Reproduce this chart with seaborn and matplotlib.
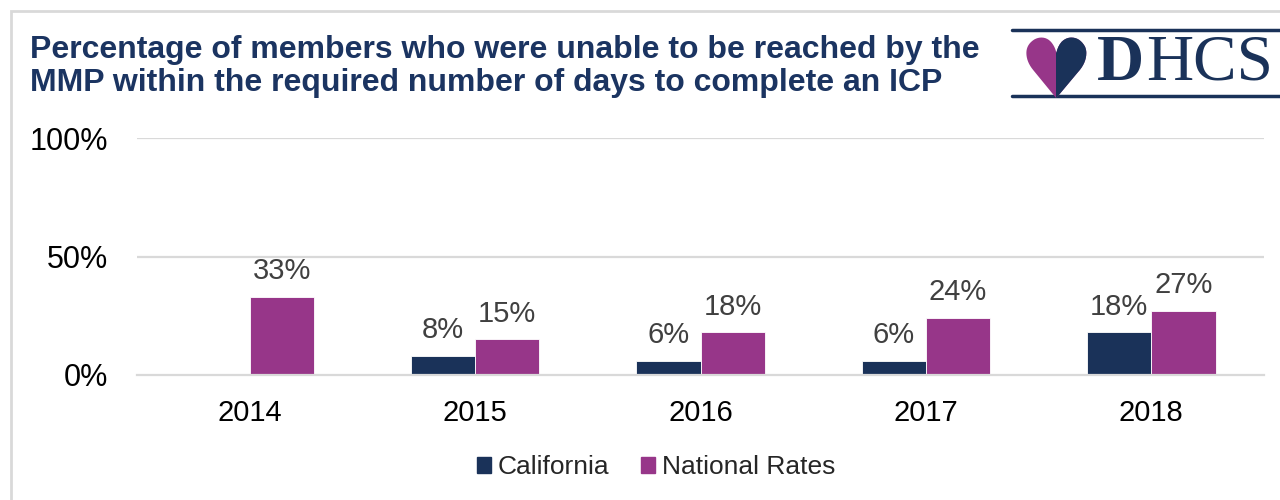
import matplotlib
matplotlib.use("Agg")
import matplotlib.pyplot as plt
import matplotlib.patches as mpatches
from matplotlib.lines import Line2D
from matplotlib.transforms import Bbox
import seaborn as sns
import pandas as pd
import numpy as np

years = ["2014", "2015", "2016", "2017", "2018"]
california = [np.nan, 8, 6, 6, 18]
national = [33, 15, 18, 24, 27]
series_names = ["California", "National Rates"]
y_ticks = [0, 50, 100]
y_tick_labels = ["0%", "50%", "100%"]
title = "Percentage of members who were unable to be reached by the\nMMP within the required number of days to complete an ICP"

navy = "#1A3259"
purple = "#973689"
grid_c = "#D9D9D9"

df = pd.DataFrame({
    "Year": years * 2,
    "Series": [series_names[0]] * len(years) + [series_names[1]] * len(years),
    "Value": california + national,
})

sns.set_theme(style="white")
plt.rcParams["font.family"] = ["Liberation Sans", "DejaVu Sans"]

W, H = 1280, 500
fig = plt.figure(figsize=(12.8, 5.0), dpi=100)
ax = fig.add_axes([137 / W, 1 - 375 / H, (1264 - 137) / W, (375 - 138) / H])

sns.barplot(data=df, x="Year", y="Value", hue="Series", order=years,
            hue_order=series_names, palette=[navy, purple], width=0.57,
            ax=ax, legend=False, saturation=1, edgecolor="white", linewidth=0.6)

ax.set_ylim(0, 100)
ax.set_xlim(-0.5, len(years) - 0.5)
ax.set_yticks(y_ticks)
ax.set_yticklabels(y_tick_labels, fontsize=22, color="black")
ax.tick_params(axis="y", length=0, pad=21)
ax.tick_params(axis="x", length=0, pad=17, labelsize=21, labelcolor="black")
ax.set_xticks(range(len(years)))
ax.set_xticklabels(years)
ax.set_xticks(np.arange(-0.5, len(years), 1.0), minor=True)
ax.tick_params(axis="x", which="minor", length=7, width=1.5, color=grid_c)
ax.set_xlabel("")
ax.set_ylabel("")
for y in [50, 100]:
    ax.axhline(y, color=grid_c, lw=1.6, zorder=0)
for s in ["top", "right", "left"]:
    ax.spines[s].set_visible(False)
ax.spines["bottom"].set_color(grid_c)
ax.spines["bottom"].set_linewidth(1.6)

for cont in ax.containers:
    labels = ["" if np.isnan(v) else f"{v:.0f}%" for v in cont.datavalues]
    ax.bar_label(cont, labels=labels, padding=8.5, fontsize=21, color="#404040")

handles = [mpatches.Patch(color=navy, label=series_names[0]),
           mpatches.Patch(color=purple, label=series_names[1])]
fig.legend(handles=handles, loc="center", bbox_to_anchor=(656 / W, 1 - 467 / H),
           ncol=2, frameon=False, fontsize=19, handlelength=0.55, handleheight=0.55,
           handletextpad=0.25, columnspacing=1.2)

fig.text(30 / W, 1 - 35 / H, title, fontsize=23, fontweight="bold", color="#1B3461",
         ha="left", va="top", linespacing=1.12)

# border
fig.patches.append(mpatches.Rectangle((11 / W, -0.1), 1.2, 1 - 11 / H + 0.1,
                                      transform=fig.transFigure, fill=False,
                                      edgecolor=grid_c, lw=2))

# logo
for yy in [30, 96]:
    fig.add_artist(Line2D([1012 / W, 1.0], [1 - yy / H, 1 - yy / H], color=navy, lw=2.5,
                          transform=fig.transFigure))
heart_x, heart_y = 1056, 74
h1 = fig.text(heart_x / W, 1 - heart_y / H, "\u2665", fontsize=60, color=purple,
              ha="center", va="center", family="DejaVu Sans")
h2 = fig.text(heart_x / W, 1 - heart_y / H, "\u2665", fontsize=60, color=navy,
              ha="center", va="center", family="DejaVu Sans")
h2.set_clip_box(Bbox.from_extents(heart_x, 0, W, H))
h2.set_clip_on(True)
fig.text(1097 / W, 1 - 64 / H, "D", fontsize=47, color=navy, ha="left", va="center",
         family="Liberation Serif", fontweight="bold")
fig.text(1146 / W, 1 - 64 / H, "HCS", fontsize=47, color=navy, ha="left", va="center",
         family="Liberation Serif")

fig.savefig("out.png", dpi=100)
